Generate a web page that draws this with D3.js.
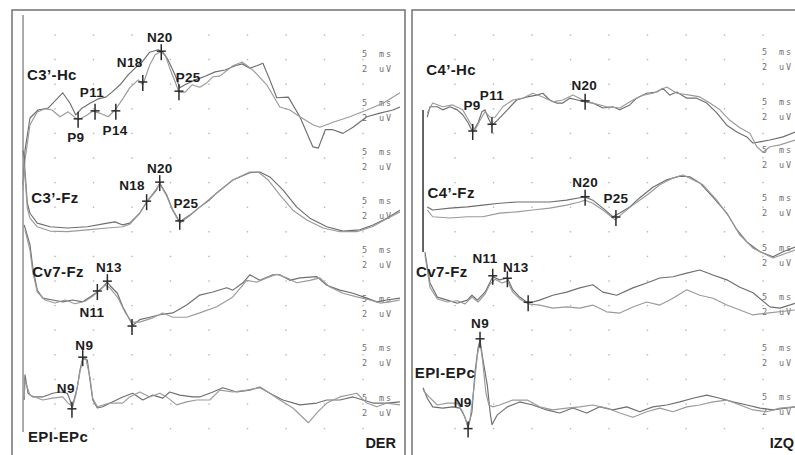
<!DOCTYPE html>
<html>
<head>
<meta charset="utf-8" />
<title>SEP</title>
<script src="https://cdn.jsdelivr.net/npm/d3@7/dist/d3.min.js"></script>
<style>
  body { margin: 0; background: #fff; }
</style>
</head>
<body>
<div id="chart"></div>
<script>
// every trace: [time in ms, amplitude in uV], positive = down (EP convention)

// ---- DER (right side stimulation) ----
const derHcA = [[0.85,6.1],[1.1,3.3],[1.75,0.65],[2.8,0],[4.1,-0.15],[5.1,-0.8],[6.0,-1.4],[6.95,-0.55],[7.7,0.4],[8.5,-0.15],[9.55,-0.55],[10.6,-0.9],[11.6,-1.05],[12.4,-1.45],[13.45,-2.05],[14.5,-2.85],[15.4,-3.4],[16.3,-3.9],[17.3,-4.7],[18.4,-4.9],[19.0,-4.7],[19.7,-4.05],[20.6,-2.85],[21.2,-1.8],[22.0,-2.1],[23.2,-2.45],[24.5,-2.75],[25.8,-3.1],[27.1,-3.25],[28.4,-3.6],[29.3,-3.75],[30.3,-3.4],[31.2,-3.6],[32.0,-3.8],[32.9,-2.45],[33.8,-1.0],[35.3,-1.05],[36.8,0.55],[38.5,3.0],[39.2,3.1],[40.1,1.6],[41.1,1.6],[42.4,1.9],[43.7,1.4],[45.5,0.55],[47.2,0.25],[48.9,0],[49.8,-0.25]];
const derHcB = [[0.85,6.5],[1.1,4.1],[1.75,1.2],[2.7,0.15],[3.7,-0.1],[4.6,0],[5.65,0.55],[6.7,0.15],[8.0,0.8],[8.9,0.5],[9.9,0.1],[10.8,0.25],[11.9,0.55],[12.8,0],[13.7,-0.8],[14.7,-1.8],[15.8,-2.45],[16.4,-2.05],[17.3,-3.65],[18.0,-4.5],[18.6,-4.7],[19.3,-4.5],[19.9,-3.4],[20.6,-2.3],[21.1,-1.45],[21.9,-1.45],[22.8,-2.05],[23.8,-1.85],[24.7,-2.2],[25.5,-2.7],[26.4,-2.75],[28.1,-3.6],[29.3,-3.9],[30.7,-3.25],[32.5,-2.05],[34.2,-0.25],[35.5,0],[36.8,0.55],[38.5,1.2],[39.4,1.4],[41.1,1.0],[43.3,0.55],[45.5,0],[47.6,-0.55],[49.8,-1.4]];
const derFzA = [[0.85,-6.3],[1.1,-4.7],[1.4,-2.05],[1.75,-1.2],[2.7,-0.4],[4.35,-0.1],[6.6,0],[9.2,-0.1],[11.8,-0.4],[12.8,-0.5],[13.8,-0.25],[14.7,-0.4],[16.0,-1.2],[16.9,-2.1],[18.2,-3.1],[18.6,-3.65],[19.5,-2.7],[20.3,-1.45],[21.2,-0.5],[22.5,-1.05],[23.8,-1.7],[25.1,-2.3],[26.0,-2.85],[28.1,-3.9],[30.3,-4.5],[31.6,-4.55],[32.9,-4.15],[34.6,-3.1],[36.4,-1.7],[38.1,-0.8],[40.3,-0.1],[42.4,0.25],[44.6,0.15],[46.3,-0.25],[48.1,-0.8],[49.8,-1.45]];
const derFzB = [[0.85,-5.9],[1.1,-4.3],[1.4,-1.6],[1.75,-0.8],[2.7,-0.1],[4.35,0.25],[6.6,0.3],[9.2,0.15],[11.8,0],[13.8,-0.1],[14.7,-0.3],[16.0,-1.2],[16.9,-2.1],[18.2,-3.2],[18.6,-3.6],[19.5,-2.6],[20.3,-1.4],[21.2,-0.4],[22.5,-1.0],[23.8,-1.7],[26.0,-2.85],[28.1,-3.9],[30.3,-4.55],[31.4,-4.55],[32.7,-3.9],[34.2,-2.7],[35.9,-1.45],[37.7,-0.65],[39.8,0],[42.0,0.3],[44.2,0.3],[46.2,-0.1],[48.1,-0.75],[49.8,-1.3]];
const derCvA = [[1.0,-6.1],[1.75,-4.5],[2.1,-2.7],[2.7,-0.8],[3.4,-0.15],[4.7,0],[6.0,0.15],[7.3,0],[8.6,0.15],[9.55,-0.25],[10.5,-0.65],[11.2,-1.05],[11.8,-1.45],[12.1,-1.2],[13.1,-0.55],[13.8,0.55],[14.7,1.6],[15.1,2.05],[16.0,1.6],[17.3,1.4],[18.6,1.2],[20.3,1.05],[22.1,0.4],[23.8,-0.4],[25.5,-0.65],[27.3,-1.0],[28.1,-0.8],[29.4,-1.4],[30.3,-2.05],[31.6,-1.6],[33.3,-2.05],[34.2,-2.05],[35.5,-1.6],[36.8,-1.8],[39.0,-1.9],[40.3,-1.2],[42.0,-0.8],[43.7,-0.55],[45.5,-0.15],[46.8,0.15],[48.1,0],[49.8,-0.15]];
const derCvB = [[1.1,-5.7],[1.75,-4.05],[2.1,-2.3],[2.7,-0.65],[3.7,0],[5.0,0.25],[6.3,0],[7.6,0.3],[8.9,0.1],[9.9,-0.3],[10.8,-0.8],[11.5,-1.2],[12.1,-1.0],[13.2,-0.15],[14.1,1.0],[15.0,1.8],[16.0,1.8],[17.7,1.45],[19.0,1.05],[20.3,1.4],[22.1,1.4],[23.8,1.05],[26.0,0.55],[28.1,-0.25],[29.9,-1.6],[31.2,-1.45],[32.5,-1.8],[33.8,-2.1],[35.1,-1.8],[36.4,-1.4],[38.1,-1.6],[39.4,-1.8],[40.7,-1.05],[42.4,-0.55],[44.2,-0.25],[45.9,0],[47.2,0.25],[48.5,0.15],[49.8,0]];
const derEpA = [[1.0,0],[1.1,-2.05],[1.5,-0.55],[2.1,-0.25],[3.4,-0.25],[4.7,-0.55],[5.65,-0.65],[6.6,-0.55],[6.95,0],[7.2,0.65],[7.9,-1.05],[8.25,-2.45],[8.6,-3.4],[9.2,-3.25],[9.55,-1.6],[9.9,0],[10.5,0.65],[11.2,0.55],[12.5,0.15],[13.8,-0.25],[15.1,-0.55],[16.4,0],[17.7,-0.4],[19.0,-0.15],[19.9,-0.65],[21.2,-0.4],[22.9,-0.25],[23.8,-0.25],[25.5,-0.65],[26.8,-1.0],[28.6,-0.65],[30.3,-0.8],[31.6,-1.05],[32.9,-0.55],[34.6,0],[36.8,0.4],[39.0,0.25],[40.3,0],[42.0,0],[43.7,-0.25],[45.0,0],[46.3,0.25],[48.1,0.25],[49.8,0.15]];
const derEpB = [[1.0,0],[1.1,-1.6],[1.75,-0.4],[3.4,0],[4.7,-0.15],[6.0,-0.25],[6.7,0.25],[7.3,0.55],[7.7,-0.4],[8.25,-2.3],[8.6,-3.25],[9.0,-3.4],[9.55,-1.8],[9.9,-0.15],[10.5,0.55],[12.1,0.25],[13.8,0.25],[14.7,-0.25],[16.0,-0.65],[17.3,-0.25],[18.6,-0.55],[19.5,-0.25],[20.8,0.4],[22.1,0.15],[23.4,0],[25.1,0],[26.4,-0.8],[28.1,-0.65],[29.9,-0.8],[31.6,-1.0],[32.9,-0.55],[34.2,0],[35.9,0.65],[37.9,1.85],[39.0,1.05],[40.3,0.25],[42.0,-0.25],[44.2,-0.55],[45.5,0.25],[46.8,0.55],[48.1,0.25],[49.8,0.4]];

// ---- IZQ (left side stimulation) ----
const izqHcA = [[1.4,0.75],[1.75,-0.1],[2.7,-0.1],[3.4,0.15],[4.35,-0.1],[5.3,0.15],[6.0,0.55],[6.7,1.2],[7.3,1.95],[8.0,1.2],[8.5,0.3],[8.9,0.15],[9.3,0.8],[9.8,1.4],[10.5,1.0],[11.8,0.15],[13.0,-0.65],[14.4,-0.9],[15.6,-1.05],[16.4,-1.2],[17.3,-0.65],[18.2,-0.4],[19.0,-0.4],[19.9,-0.8],[20.9,-0.65],[21.9,-0.5],[22.9,-0.4],[24.2,0],[25.5,-0.1],[26.4,0.15],[27.7,-0.25],[28.6,-0.8],[29.9,-1.2],[31.2,-1.3],[32.0,-1.6],[32.9,-1.05],[33.8,-1.3],[35.1,-0.8],[36.4,-0.8],[37.7,-0.4],[39.0,0.4],[40.3,1.4],[41.6,1.95],[42.9,2.35],[43.7,2.85],[44.6,2.75],[45.9,2.6],[47.6,2.35],[49.2,1.95]];
const izqHcB = [[1.4,0.4],[2.1,-0.4],[3.4,-0.1],[4.7,-0.25],[6.0,0.15],[6.95,1.2],[7.6,1.8],[8.25,1.0],[8.9,0.3],[9.55,0.75],[10.2,0.75],[11.2,-0.1],[12.5,-0.65],[13.8,-0.8],[15.1,-1.2],[16.4,-0.9],[17.7,-0.5],[19.0,-0.65],[20.3,-1.05],[21.6,-0.65],[22.9,-0.4],[24.7,-0.1],[26.4,0],[28.1,-0.65],[29.4,-1.05],[30.7,-1.2],[32.5,-1.7],[33.8,-1.2],[35.5,-1.05],[36.8,-0.9],[38.1,-0.4],[39.4,0.15],[40.7,1.0],[42.0,1.6],[43.3,2.05],[44.2,3.15],[45.0,3.6],[45.9,3.15],[47.2,3.0],[49.2,2.6]];
const izqFzA = [[1.4,-0.25],[2.1,0],[4.35,-0.15],[6.6,-0.25],[8.6,-0.4],[10.8,-0.55],[13.0,-0.65],[15.1,-0.65],[17.3,-0.65],[19.5,-0.8],[21.2,-1.0],[21.9,-1.05],[22.9,-0.8],[24.2,-0.15],[25.5,0.55],[26.4,0.25],[27.7,-0.25],[29.0,-1.0],[30.7,-1.85],[32.5,-2.45],[34.2,-2.75],[35.5,-2.7],[36.8,-2.2],[38.5,-1.05],[40.3,0.25],[41.6,1.6],[42.9,2.6],[44.6,3.4],[46.3,3.8],[47.6,3.4],[49.2,3.0]];
const izqFzB = [[1.4,0],[2.1,0.55],[4.35,0.65],[6.6,0.55],[8.6,0.55],[10.8,0.25],[13.0,0.15],[15.1,0],[17.3,-0.15],[19.5,-0.4],[21.2,-0.65],[21.9,-0.8],[22.9,-0.55],[24.2,0],[25.8,0.8],[26.8,0.25],[28.1,-0.4],[29.9,-1.2],[31.6,-2.05],[33.3,-2.6],[34.6,-2.85],[35.1,-2.7],[37.2,-2.05],[39.0,-0.8],[40.7,0.65],[42.0,2.05],[43.7,3.1],[45.5,3.65],[46.3,3.9],[48.1,3.5],[49.2,3.25]];
const izqCvA = [[1.1,-4.05],[1.75,-1.55],[2.7,-0.4],[4.0,-0.15],[5.3,0.1],[6.6,-0.15],[7.2,-0.55],[7.9,-0.15],[8.9,-0.8],[9.55,-1.6],[9.9,-2.05],[10.8,-1.8],[11.8,-1.95],[12.5,-1.0],[13.4,-0.4],[14.5,0.1],[16.0,-0.15],[17.7,-0.55],[19.5,-0.8],[21.2,-1.15],[22.9,-1.4],[24.2,-0.8],[26.0,-0.55],[28.1,-1.15],[29.9,-1.55],[31.6,-1.95],[33.3,-2.05],[35.1,-2.35],[36.8,-2.6],[38.5,-2.2],[40.3,-1.8],[42.0,-1.2],[43.7,-0.75],[45.9,0.4],[47.2,0.5],[49.2,0.1]];
const izqCvB = [[1.1,-3.8],[1.75,-1.2],[2.7,-0.25],[4.0,0],[5.3,-0.1],[6.3,0.15],[7.2,-0.4],[8.0,0],[8.9,-0.65],[9.55,-1.45],[10.2,-1.85],[11.1,-1.55],[11.8,-1.7],[12.5,-0.8],[13.4,-0.25],[14.5,0.15],[16.0,0.25],[17.7,0.5],[19.5,0.4],[21.2,0.5],[22.9,0.25],[24.7,0.8],[26.4,0.9],[28.1,0.4],[29.9,0],[31.6,0.25],[33.3,-0.3],[35.1,-1.0],[36.8,-0.55],[38.5,-0.3],[40.3,0.25],[42.0,0.65],[43.7,1.05],[45.5,0.9],[49.2,0.65]];
const izqEpA = [[0.85,-1.4],[1.4,-0.55],[2.1,0.15],[3.4,0.25],[4.7,0.15],[5.65,0.25],[6.3,1.0],[6.7,1.85],[7.2,0.55],[7.6,-2.7],[8.0,-4.65],[8.25,-5.3],[8.6,-3.8],[9.2,-1.6],[9.55,0.55],[9.8,1.6],[10.5,0.8],[11.8,0.15],[13.4,-0.25],[15.1,0],[16.9,0.4],[18.6,0.65],[20.3,0.25],[22.1,0.65],[23.8,0.15],[25.5,0.4],[27.3,0.15],[29.0,0.55],[30.7,0.15],[32.5,0],[34.2,-0.25],[35.9,-0.55],[37.7,-0.8],[39.4,-0.55],[41.1,-0.25],[42.9,0],[44.6,0.25],[46.3,0.4],[49.2,0.15]];
const izqEpB = [[0.85,-1.2],[1.4,-0.8],[2.7,0],[4.0,-0.15],[5.3,-0.15],[6.0,0.55],[6.6,1.55],[6.95,1.2],[7.5,-1.6],[7.9,-4.05],[8.25,-5.1],[8.6,-3.5],[9.0,-1.05],[9.4,0],[9.9,0.15],[10.8,0],[12.5,-0.4],[14.4,-0.4],[16.0,0.15],[17.7,0.4],[19.5,0.25],[21.2,0.15],[22.9,0],[24.7,0.25],[26.4,0.65],[28.1,1.0],[29.9,0.55],[31.6,0.25],[33.3,0.55],[35.1,0.15],[36.8,0],[38.5,-0.25],[40.3,-0.4],[42.0,0],[43.7,0.4],[45.5,0.55],[47.2,0.25],[49.2,0.15]];

// channel names
const derChannels = ["C3’-Hc", "C3’-Fz", "Cv7-Fz", "EPI-EPc"];
const izqChannels = ["C4’-Hc", "C4’-Fz", "Cv7-Fz", "EPI-EPc"];

// peak markers: [channel, ms, uV]
const derMarks = [[0,8.0,0.8],[0,10.2,0.15],[0,12.9,0.15],[0,16.4,-2.2],[0,18.8,-4.7],[0,21.1,-1.45],
  [1,16.9,-2.1],[1,18.6,-3.65],[1,21.2,-0.5],
  [2,10.5,-0.65],[2,11.8,-1.45],[2,15.0,2.2],
  [3,7.2,0.8],[3,8.6,-3.4]];
const izqMarks = [[0,7.3,1.95],[0,9.8,1.4],[0,21.9,-0.5],
  [1,21.9,-1.0],[1,25.9,0.65],
  [2,9.9,-2.05],[2,11.8,-1.85],[2,14.5,0.1],
  [3,6.7,2.0],[3,8.25,-5.3]];

// peak labels: [channel, text, ms, uV] (text centre / baseline)
const derPeakLabels = [[0,"N20",18.6,-5.5],[0,"N18",14.7,-3.5],[0,"P11",9.8,-1.05],[0,"P25",22.3,-2.3],[0,"P9",7.7,2.6],[0,"P14",12.8,2.05],
  [1,"N18",15.0,-3.1],[1,"N20",18.6,-4.5],[1,"P25",22.0,-1.6],
  [2,"N13",12.0,-2.3],[2,"N11",9.8,1.4],
  [3,"N9",8.8,-4.05],[3,"N9",6.4,-0.55]];
const izqPeakLabels = [[0,"P9",7.2,0.15],[0,"P11",9.8,-0.65],[0,"N20",21.8,-1.45],
  [1,"N20",21.9,-1.85],[1,"P25",25.9,-0.55],
  [2,"N11",8.9,-3.15],[2,"N13",12.9,-2.45],
  [3,"N9",8.25,-6.25],[3,"N9",6.0,0.15]];

// channel name positions: [ms, uV]
const derNamePos = [[4.6,-2.45],[5.0,-2.05],[5.4,-1.85],[5.4,3.4]];
const izqNamePos = [[4.5,-2.7],[4.5,-1.0],[3.3,-2.05],[3.7,-2.2]];

const gridTimes = [5, 10, 15, 20, 25, 30, 35, 40, 45];
const sweepMs = 50;

// ---- layout ----
const width = 795, height = 455;
const pxPerMs = 7.7, pxPerUv = 12.3;

const panels = [
  { tag: "DER", left: 12, right: 405, t0: 16.5, bases: [110, 228, 300, 400],
    traces: [[derHcA, derHcB], [derFzA, derFzB], [derCvA, derCvB], [derEpA, derEpB]],
    names: derChannels, namePos: derNamePos, marks: derMarks, labels: derPeakLabels,
    scaleRows: [57, 106, 155, 204, 253, 302, 351, 401], tagX: 396 },
  { tag: "IZQ", left: 412, right: 830, t0: 416.5, bases: [108, 210, 302, 405],
    traces: [[izqHcA, izqHcB], [izqFzA, izqFzB], [izqCvA, izqCvB], [izqEpA, izqEpB]],
    names: izqChannels, namePos: izqNamePos, marks: izqMarks, labels: izqPeakLabels,
    scaleRows: [55, 105, 153, 201, 251, 300, 351, 400], tagX: 794 }
];

const svg = d3.select("#chart").append("svg")
  .attr("width", width).attr("height", height)
  .style("display", "block").style("background", "#fff");

const font = "'Liberation Sans', Arial, sans-serif";
const rows = d3.range(17).map((k) => 35 + 24.6 * k);

panels.forEach((p) => {
  const x = d3.scaleLinear().domain([0, sweepMs]).range([p.t0, p.t0 + sweepMs * pxPerMs]);
  const yScales = p.bases.map((b) => d3.scaleLinear().domain([0, 1]).range([b, b + pxPerUv]));
  const g = svg.append("g");

  // frame
  g.append("rect")
    .attr("x", p.left).attr("y", 10)
    .attr("width", p.right - p.left).attr("height", height + 20)
    .attr("fill", "none").attr("stroke", "#7a7a7a").attr("stroke-width", 1.6);

  // dotted grid
  const dots = [];
  gridTimes.forEach((t) => rows.forEach((r) => dots.push([t, r])));
  g.append("g").selectAll("rect").data(dots).join("rect")
    .attr("x", (d) => x(d[0]) - 0.7).attr("y", (d) => d[1] - 0.7)
    .attr("width", 1.4).attr("height", 1.4).attr("fill", "#b5b5b5");

  // scale labels
  const sc = g.append("g").attr("font-family", "'DejaVu Sans Mono', monospace")
    .attr("font-size", 8.5).attr("fill", "#707070");
  p.scaleRows.forEach((r) => {
    sc.append("text").attr("x", x(45) - 1).attr("y", r).text("5");
    sc.append("text").attr("x", x(45) + 16).attr("y", r).attr("letter-spacing", 1.8).text("ms");
    sc.append("text").attr("x", x(45) - 1).attr("y", r + 15).text("2");
    sc.append("text").attr("x", x(45) + 16).attr("y", r + 15).attr("letter-spacing", 1.8).text("uV");
  });

  // stimulus artifact
  if (p.tag === "DER") {
    g.append("line").attr("x1", x(0.85)).attr("x2", x(0.85))
      .attr("y1", 15).attr("y2", 432).attr("stroke", "#808080").attr("stroke-width", 1.3);
  } else {
    g.append("line").attr("x1", x(0.85)).attr("x2", x(0.85))
      .attr("y1", 110).attr("y2", 252).attr("stroke", "#555").attr("stroke-width", 1.8);
  }

  // traces
  const traceColors = ["#6e6e6e", "#9a9a9a"];
  p.traces.forEach((pair, ci) => {
    const line = d3.line().x((d) => x(d[0])).y((d) => yScales[ci](d[1]));
    pair.forEach((tr, ti) => {
      g.append("path").attr("d", line(tr))
        .attr("fill", "none").attr("stroke", traceColors[ti])
        .attr("stroke-width", 1.15).attr("stroke-linejoin", "round");
    });
  });

  // peak markers (crosses)
  const mk = g.append("g").attr("stroke", "#2b2b2b").attr("stroke-width", 1.5);
  p.marks.forEach(([ci, t, v]) => {
    const cx = x(t), cy = yScales[ci](v);
    mk.append("line").attr("x1", cx).attr("x2", cx).attr("y1", cy - 8).attr("y2", cy + 8);
    mk.append("line").attr("x1", cx - 4.5).attr("x2", cx + 4.5).attr("y1", cy - 1).attr("y2", cy - 1);
  });

  // peak labels
  g.append("g").selectAll("text").data(p.labels).join("text")
    .attr("x", (d) => x(d[2])).attr("y", (d) => yScales[d[0]](d[3]))
    .attr("text-anchor", "middle").attr("font-family", font)
    .attr("font-weight", "bold").attr("font-size", 13.5).attr("letter-spacing", 0.3)
    .attr("fill", "#1c1c1c")
    .text((d) => d[1]);

  // channel names
  g.append("g").selectAll("text").data(p.names).join("text")
    .attr("x", (d, i) => x(p.namePos[i][0])).attr("y", (d, i) => yScales[i](p.namePos[i][1]))
    .attr("text-anchor", "middle").attr("font-family", font)
    .attr("font-weight", "bold").attr("font-size", 15).attr("letter-spacing", 0.4)
    .attr("fill", "#1c1c1c")
    .text((d) => d);

  // side tag
  g.append("text").attr("x", p.tagX).attr("y", 448)
    .attr("text-anchor", "end").attr("font-family", font)
    .attr("font-weight", "bold").attr("font-size", 14.5).attr("fill", "#1c1c1c")
    .text(p.tag);
});
</script>
</body>
</html>
